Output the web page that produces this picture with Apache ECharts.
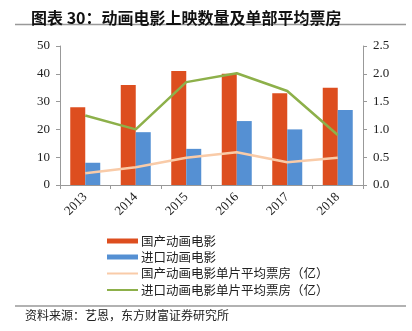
<!DOCTYPE html>
<html><head><meta charset="utf-8">
<script src="https://cdn.jsdelivr.net/npm/echarts@6/dist/echarts.min.js"></script>
<style>html,body{margin:0;padding:0;background:#fff}#c{width:412px;height:331px}</style>
</head><body><div id="c"></div>
<script>
var years = ['2013','2014','2015','2016','2017','2018'];
var domesticCount = [28, 36, 41, 40, 33, 35];
var importCount = [8, 19, 13, 23, 20, 27];
var domesticAvg = [0.21, 0.32, 0.49, 0.59, 0.41, 0.49];
var importAvg = [1.25, 1.0, 1.85, 2.01, 1.69, 0.9];
var leftTicks = [0, 50, 10];
var rightTicks = [0, 2.5, 0.5];
var seriesNames = ['国产动画电影', '进口动画电影', '国产动画电影单片平均票房（亿）', '进口动画电影单片平均票房（亿）'];

var serif = '"Liberation Serif","DejaVu Serif",serif';
var cjk = '"Noto Sans CJK SC",sans-serif';
var legendTops = [229, 245, 261.5, 278];
var legendHeights = [5, 5, 2, 2];
var legends = seriesNames.map(function (n, i) {
  return {orient: 'vertical', left: 102, top: legendTops[i], itemWidth: 31, itemHeight: legendHeights[i],
    textStyle: {fontFamily: cjk, fontSize: 12.5, color: '#222', lineHeight: 14, padding: [0,0,0,-2]},
    data: [{name: n, icon: 'rect'}]};
});
var chart = echarts.init(document.getElementById('c'));
chart.setOption({
  animation: false,
  title: {
    text: '图表 30：动画电影上映数量及单部平均票房',
    left: 26, top: 5,
    textStyle: {fontFamily: cjk, fontSize: 16, fontWeight: 'bold', color: '#111'}
  },
  graphic: [
    {type: 'line', shape: {x1: 15, y1: 24.5, x2: 406, y2: 24.5}, style: {stroke: '#999', lineWidth: 1.5}},
    {type: 'line', shape: {x1: 15, y1: 306, x2: 406, y2: 306}, style: {stroke: '#999', lineWidth: 1.5}},
    {type: 'text', left: 25, top: 309, style: {text: '资料来源：艺恩，东方财富证券研究所', font: '12px ' + cjk, fill: '#222'}}
  ],
  legend: legends,
  grid: {left: 60, right: 49, top: 46, bottom: 146},
  xAxis: {
    type: 'category', data: years,
    axisLine: {lineStyle: {color: '#999'}},
    axisTick: {show: true, lineStyle: {color: '#999'}, length: 4},
    axisLabel: {rotate: 45, fontFamily: serif, fontSize: 13, color: '#222', margin: 10}
  },
  yAxis: [
    {type: 'value', min: leftTicks[0], max: leftTicks[1], interval: leftTicks[2],
     splitLine: {show: false},
     axisLine: {show: true, lineStyle: {color: '#999'}},
     axisTick: {show: true, lineStyle: {color: '#999'}, length: 4},
     axisLabel: {fontFamily: serif, fontSize: 13, color: '#222', margin: 10}},
    {type: 'value', min: rightTicks[0], max: rightTicks[1], interval: rightTicks[2],
     splitLine: {show: false},
     axisLine: {show: true, lineStyle: {color: '#999'}},
     axisTick: {show: true, lineStyle: {color: '#999'}, length: 4},
     axisLabel: {fontFamily: serif, fontSize: 13, color: '#222', margin: 10,
       formatter: function (v) { return v.toFixed(1); }}}
  ],
  series: [
    {name: seriesNames[0], type: 'bar', data: domesticCount, barWidth: 15, barGap: '0%',
     itemStyle: {color: '#DD4E1F'}},
    {name: seriesNames[1], type: 'bar', data: importCount, barWidth: 15, barGap: '0%',
     itemStyle: {color: '#5590D3'}},
    {name: seriesNames[2], type: 'line', yAxisIndex: 1, data: domesticAvg,
     symbol: 'none', lineStyle: {color: '#F9CBA8', width: 2.5}, itemStyle: {color: '#F9CBA8'}},
    {name: seriesNames[3], type: 'line', yAxisIndex: 1, data: importAvg,
     symbol: 'none', lineStyle: {color: '#8DB04A', width: 2.5}, itemStyle: {color: '#8DB04A'}}
  ]
});
</script></body></html>
